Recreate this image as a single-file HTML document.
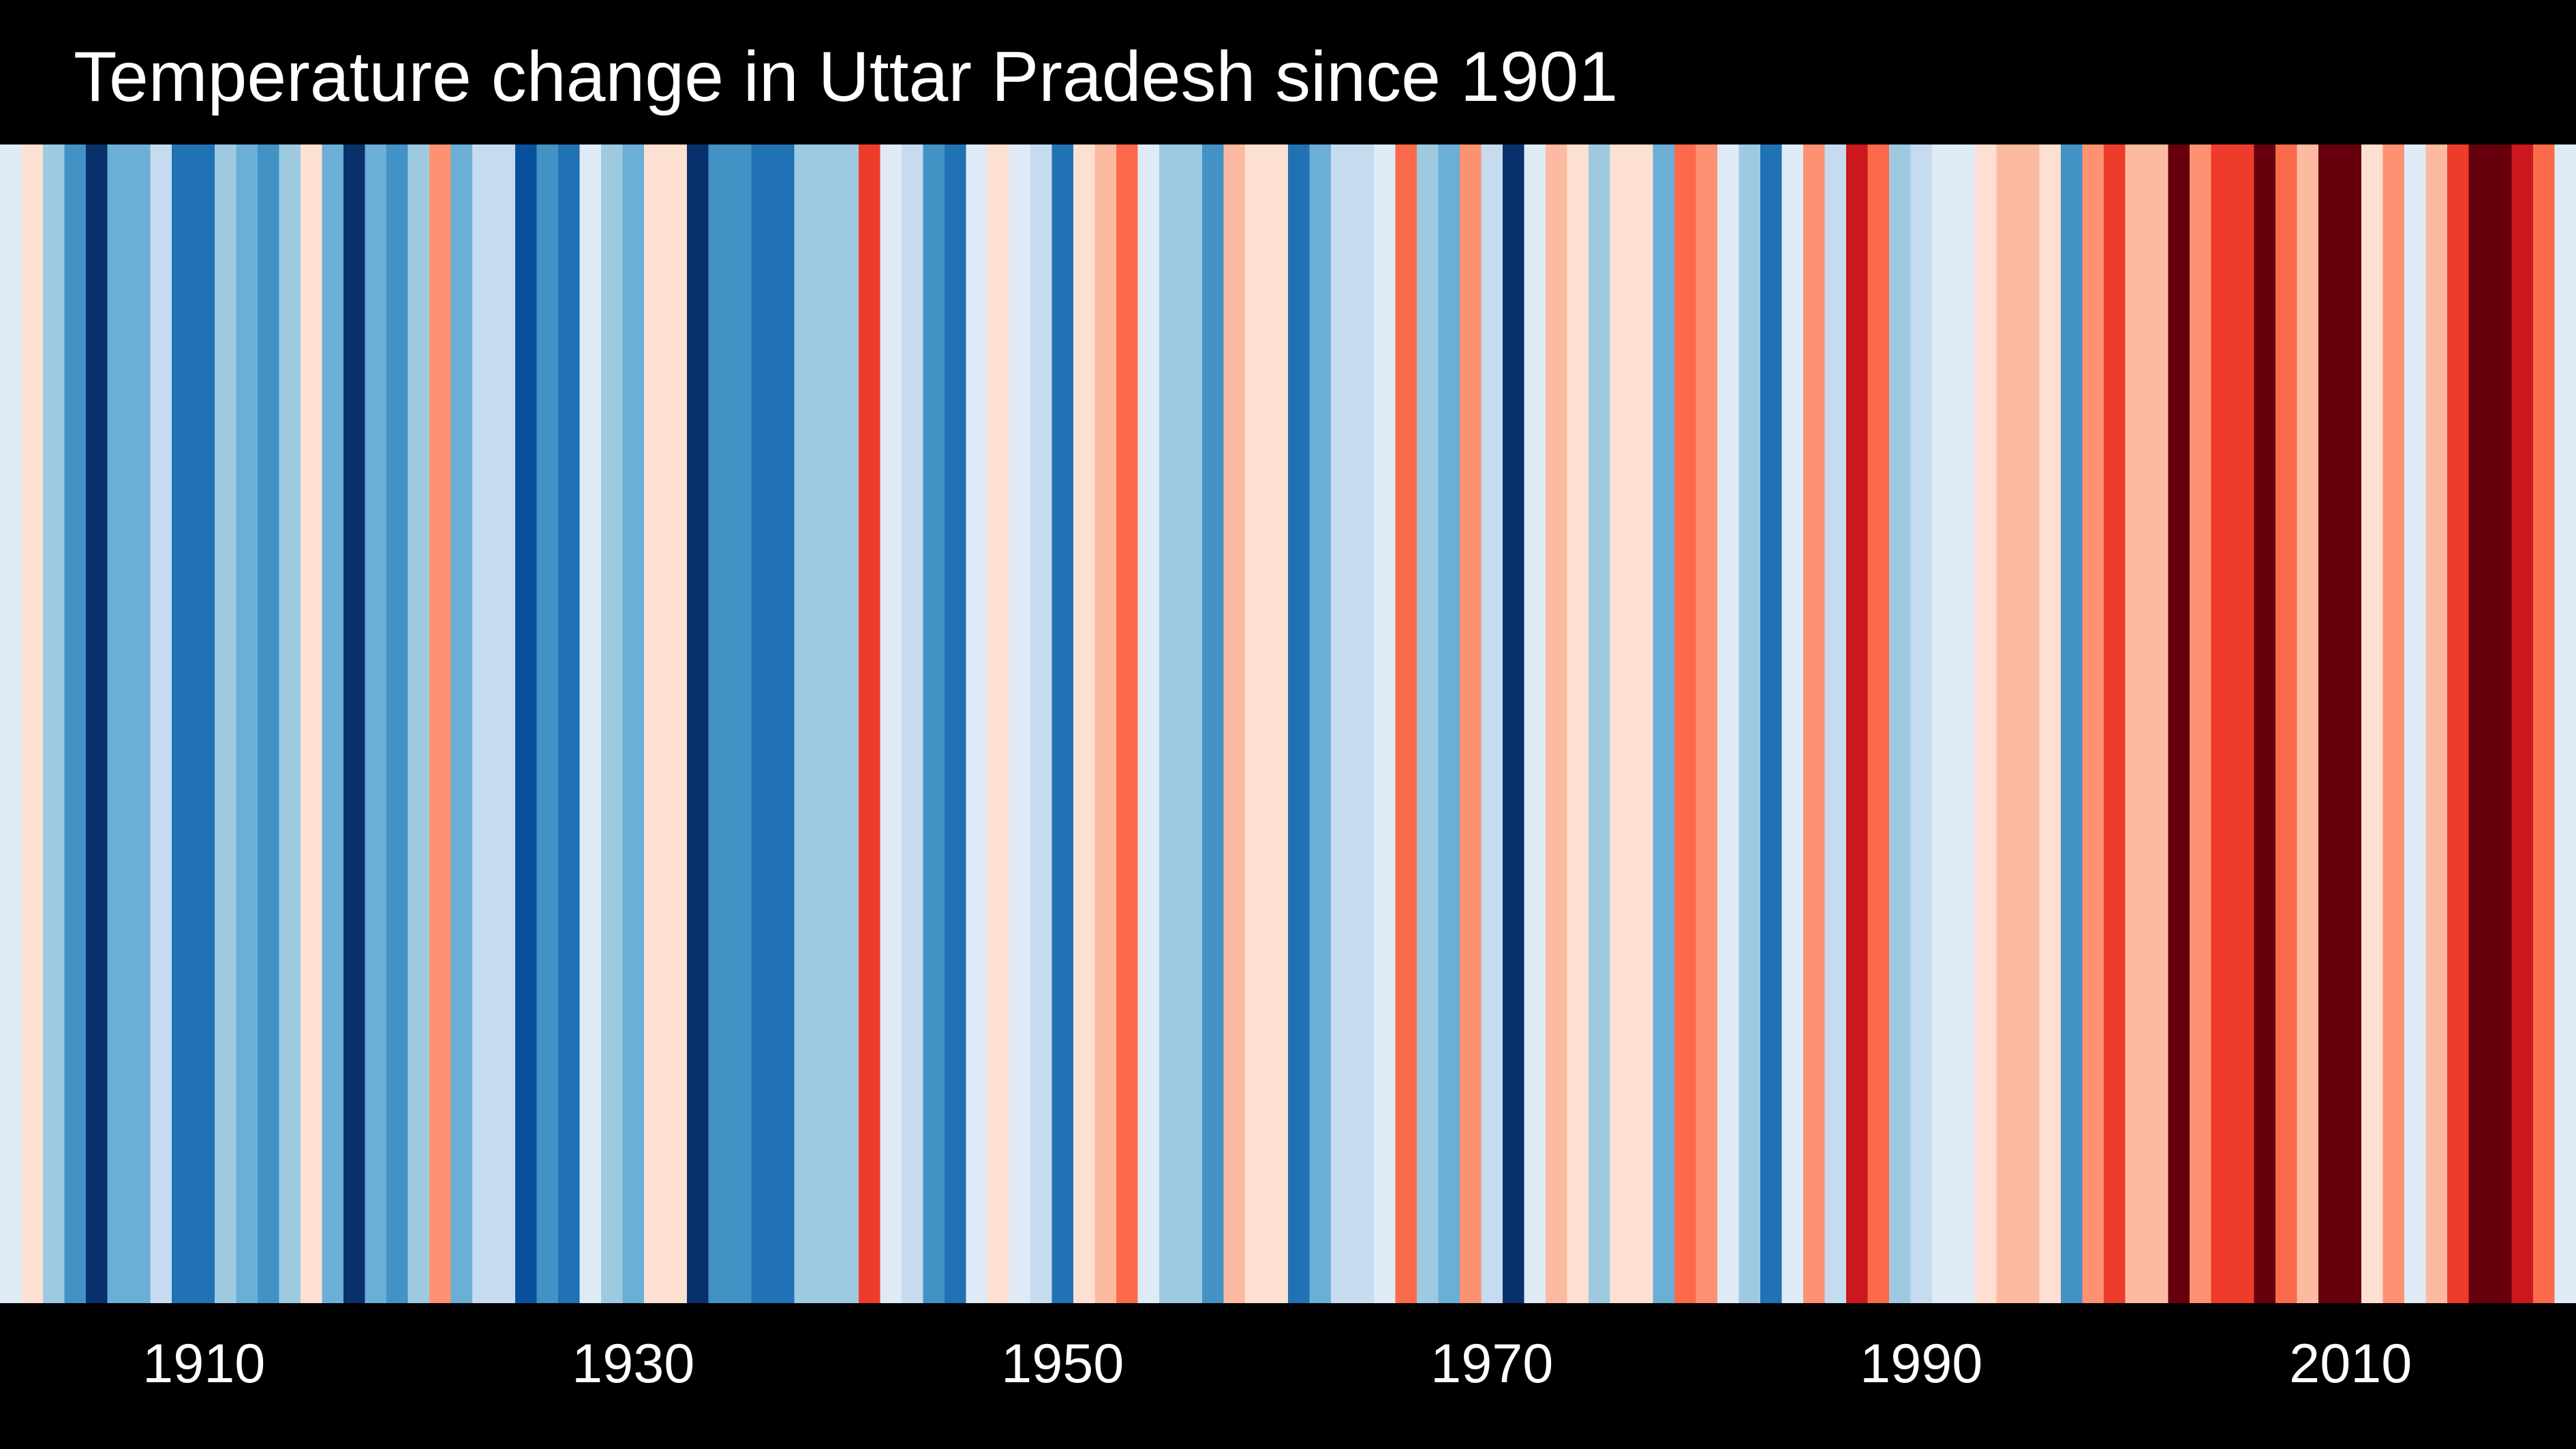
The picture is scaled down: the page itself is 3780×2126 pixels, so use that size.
<!DOCTYPE html>
<html><head><meta charset="utf-8">
<style>
html,body{margin:0;padding:0;background:#000;}
svg{display:block;}
</style></head>
<body>
<svg id="chart" width="3780" height="2126" viewBox="0 0 3780 2126" xmlns="http://www.w3.org/2000/svg">
<rect x="0" y="0" width="3780" height="2126" fill="#000"/>
<text x="108" y="148" fill="#fff" font-family="Liberation Sans, sans-serif" font-size="104">Temperature change in Uttar Pradesh since 1901</text>
<g id="stripes"></g>
<g id="ticks"></g>
</svg>
<script>
const startYear = 1901;
// anomaly level: negative = blue (cool), positive = red (warm), magnitude 1..8
const anomalies = [
-1,1,-3,-5,-8,-4,-4,-2,-6,-6,
-3,-4,-5,-3,1,-4,-8,-4,-5,-3,
3,-4,-2,-2,-7,-5,-6,-1,-3,-4,
1,1,-8,-5,-5,-6,-6,-3,-3,-3,
5,-1,-2,-5,-6,-1,1,-1,-2,-6,
1,2,4,-1,-3,-3,-5,2,1,1,
-6,-4,-2,-2,-1,4,-3,-4,3,-2,
-8,-1,2,1,-3,1,1,-4,4,3,
-1,-3,-6,-1,3,-2,6,4,-3,-2,
-1,-1,1,2,2,1,-5,3,5,2,
2,8,3,5,5,8,4,2,8,8,
1,3,-1,2,5,8,8,6,4,-1
];
const tickYears = [1910,1930,1950,1970,1990,2010];
const blues = ["#deebf7","#c6dbef","#9ecae1","#6baed6","#4292c6","#2171b5","#08519c","#08306b"];
const reds = ["#fee0d2","#fcbba1","#fc9272","#fb6a4a","#ef3b2c","#cb181d","#a50f15","#67000d"];

const plotLeft = 0, plotRight = 3780, plotTop = 212, plotBottom = 1912;
const nYears = anomalies.length;
const bw = (plotRight - plotLeft) / nYears;
function xScale(year){ return plotLeft + (year - startYear) * bw; }
function colorScale(v){ return v < 0 ? blues[Math.min(8,-v)-1] : reds[Math.min(8,Math.max(1,v))-1]; }

const NS = "http://www.w3.org/2000/svg";
const gS = document.getElementById('stripes');
anomalies.forEach((v,i)=>{
  const r = document.createElementNS(NS,'rect');
  const yr = startYear + i;
  r.setAttribute('x', xScale(yr));
  r.setAttribute('y', plotTop);
  r.setAttribute('width', bw + 0.6);
  r.setAttribute('height', plotBottom - plotTop);
  r.setAttribute('fill', colorScale(v));
  
  
  gS.appendChild(r);
});
const gT = document.getElementById('ticks');
tickYears.forEach(y=>{
  const t = document.createElementNS(NS,'text');
  t.setAttribute('x', xScale(y) + bw/2);
  t.setAttribute('y', 2028);
  t.setAttribute('fill', '#fff');
  t.setAttribute('text-anchor', 'middle');
  t.setAttribute('font-family', 'Liberation Sans, sans-serif');
  t.setAttribute('font-size', '81');
  t.textContent = y;
  
  
  gT.appendChild(t);
});
</script>
</body></html>
